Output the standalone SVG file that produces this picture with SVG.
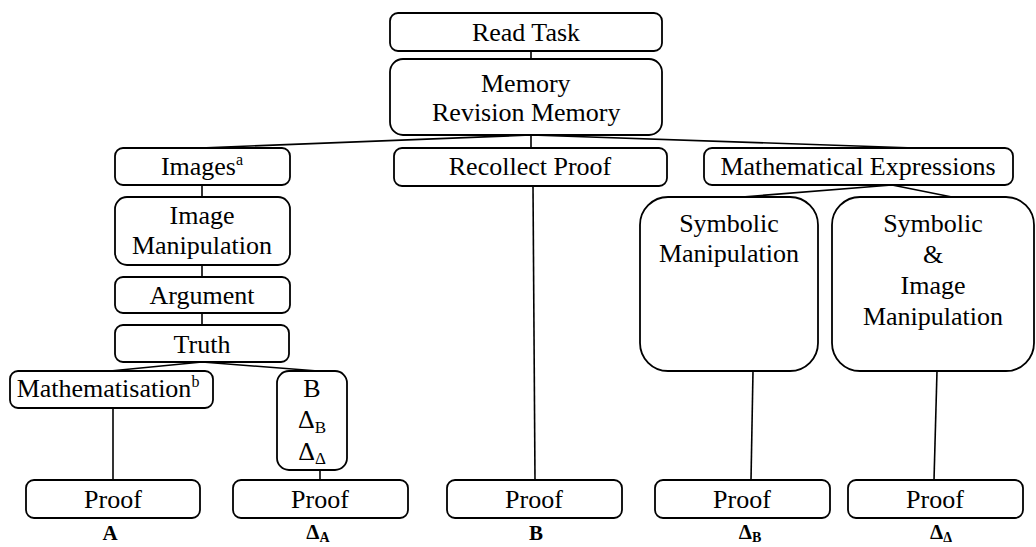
<svg xmlns="http://www.w3.org/2000/svg" width="1036" height="547" viewBox="0 0 1036 547">
<rect width="1036" height="547" fill="#fff"/>
<g id="connectors" fill="none" stroke="#000" stroke-width="1.6">
<line x1="531" y1="51" x2="531" y2="59"/>
<line x1="531" y1="135" x2="531" y2="148"/>
<line x1="531" y1="135" x2="200" y2="148"/>
<line x1="531" y1="135" x2="915" y2="148"/>
<line x1="202" y1="185" x2="202" y2="197"/>
<line x1="202" y1="265" x2="202" y2="277"/>
<line x1="202" y1="313" x2="202" y2="325"/>
<line x1="202" y1="362" x2="110" y2="371"/>
<line x1="202" y1="362" x2="318" y2="371"/>
<line x1="113" y1="408" x2="113" y2="480"/>
<line x1="320" y1="470" x2="320" y2="480"/>
<line x1="533" y1="186" x2="535" y2="480"/>
<line x1="892" y1="185" x2="742" y2="197"/>
<line x1="892" y1="185" x2="952" y2="197"/>
<line x1="753" y1="371" x2="751" y2="480"/>
<line x1="937" y1="371" x2="934" y2="480"/>
</g>
<g id="read-task"><rect x="390" y="13" width="272" height="38" rx="8" fill="#fff" stroke="#000" stroke-width="1.8"/><text x="526" y="41" font-size="26" font-family="Liberation Serif" text-anchor="middle">Read Task</text></g>
<g id="memory"><rect x="390" y="59" width="272" height="76" rx="13" fill="#fff" stroke="#000" stroke-width="1.8"/><text x="481" y="92" font-size="26" font-family="Liberation Serif">Memory</text><text x="432" y="121" font-size="26" font-family="Liberation Serif">Revision Memory</text></g>
<g id="images"><rect x="115" y="148" width="175" height="37" rx="8" fill="#fff" stroke="#000" stroke-width="1.8"/><text x="202" y="175" style="font-family:'Liberation Serif';font-size:26px;text-anchor:middle">Images<tspan font-size="16" dy="-10">a</tspan></text></g>
<g id="recollect-proof"><rect x="394" y="148" width="273" height="38" rx="8" fill="#fff" stroke="#000" stroke-width="1.8"/><text x="530" y="175" font-size="26" font-family="serif" text-anchor="middle">Recollect Proof</text></g>
<g id="math-expressions"><rect x="704" y="148" width="309" height="37" rx="8" fill="#fff" stroke="#000" stroke-width="1.8"/><text x="858" y="175" font-size="26" font-family="Times New Roman" text-anchor="middle">Mathematical Expressions</text></g>
<g id="image-manipulation"><rect x="115" y="197" width="175" height="68" rx="12" fill="#fff" stroke="#000" stroke-width="1.8"/><text x="202" y="224" font-size="26" font-family="Liberation Serif" text-anchor="middle">Image</text><text x="202" y="254" font-size="26" font-family="Liberation Serif" text-anchor="middle">Manipulation</text></g>
<g id="argument"><rect x="115" y="277" width="175" height="36" rx="8" fill="#fff" stroke="#000" stroke-width="1.8"/><text x="202" y="304" font-size="26" font-family="Liberation Serif" text-anchor="middle">Argument</text></g>
<g id="truth"><rect x="115" y="325" width="174" height="37" rx="8" fill="#fff" stroke="#000" stroke-width="1.8"/><text x="202" y="353" font-size="26" font-family="Liberation Serif" text-anchor="middle">Truth</text></g>
<g id="mathematisation"><rect x="10" y="371" width="203" height="37" rx="8" fill="#fff" stroke="#000" stroke-width="1.8"/><text x="108" y="397" font-size="26" font-family="Liberation Serif" text-anchor="middle">Mathematisation<tspan font-size="16" dy="-10">b</tspan></text></g>
<g id="b-deltas"><rect x="277" y="371" width="70" height="99" rx="12" fill="#fff" stroke="#000" stroke-width="1.8"/><text x="312" y="397" font-size="26" font-family="Liberation Serif" text-anchor="middle">B</text><text x="312" y="428" font-size="26" font-family="Liberation Serif" text-anchor="middle">Δ<tspan font-size="17" dy="5">B</tspan></text><text x="312" y="460" font-size="26" font-family="Liberation Serif" text-anchor="middle">Δ<tspan font-size="17" dy="4">Δ</tspan></text></g>
<g id="symbolic-manipulation"><rect x="640" y="197" width="178" height="174" rx="28" fill="#fff" stroke="#000" stroke-width="1.8"/><text x="729" y="232" font-size="26" font-family="Liberation Serif" text-anchor="middle">Symbolic</text><text x="729" y="262" font-size="26" font-family="Liberation Serif" text-anchor="middle">Manipulation</text></g>
<g id="symbolic-image-manipulation"><rect x="832" y="197" width="202" height="174" rx="28" fill="#fff" stroke="#000" stroke-width="1.8"/><text x="933" y="232" font-size="26" font-family="Liberation Serif" text-anchor="middle">Symbolic</text><text x="933" y="263" font-size="26" font-family="Liberation Serif" text-anchor="middle">&amp;</text><text x="933" y="294" font-size="26" font-family="Liberation Serif" text-anchor="middle">Image</text><text x="933" y="325" font-size="26" font-family="Liberation Serif" text-anchor="middle">Manipulation</text></g>
<g id="proof-a"><rect x="26" y="480" width="174" height="38" rx="8" fill="#fff" stroke="#000" stroke-width="1.8"/><text x="113" y="508" font-size="26" font-family="Liberation Serif" text-anchor="middle">Proof</text><text x="110" y="540" font-size="21" font-weight="bold" font-family="Liberation Serif" text-anchor="middle">A</text></g>
<g id="proof-da"><rect x="233" y="480" width="175" height="38" rx="8" fill="#fff" stroke="#000" stroke-width="1.8"/><text x="320" y="508" font-size="26" font-family="Liberation Serif" text-anchor="middle">Proof</text><text x="318" y="539" font-size="21" font-weight="bold" font-family="Liberation Serif" text-anchor="middle">Δ<tspan font-size="14" dy="3">A</tspan></text></g>
<g id="proof-b"><rect x="447" y="480" width="175" height="38" rx="8" fill="#fff" stroke="#000" stroke-width="1.8"/><text x="534" y="508" font-size="26" font-family="Liberation Serif" text-anchor="middle">Proof</text><text x="536" y="540" font-size="21" font-weight="bold" font-family="Liberation Serif" text-anchor="middle">B</text></g>
<g id="proof-db"><rect x="655" y="480" width="175" height="38" rx="8" fill="#fff" stroke="#000" stroke-width="1.8"/><text x="742" y="508" font-size="26" font-family="Liberation Serif" text-anchor="middle">Proof</text><text x="750" y="539" font-size="21" font-weight="bold" font-family="Liberation Serif" text-anchor="middle">Δ<tspan font-size="14" dy="3">B</tspan></text></g>
<g id="proof-dd"><rect x="848" y="480" width="175" height="38" rx="8" fill="#fff" stroke="#000" stroke-width="1.8"/><text x="935" y="508" font-size="26" font-family="Liberation Serif" text-anchor="middle">Proof</text><text x="941" y="539" font-size="21" font-weight="bold" font-family="Liberation Serif" text-anchor="middle">Δ<tspan font-size="14" dy="3">Δ</tspan></text></g>
</svg>
